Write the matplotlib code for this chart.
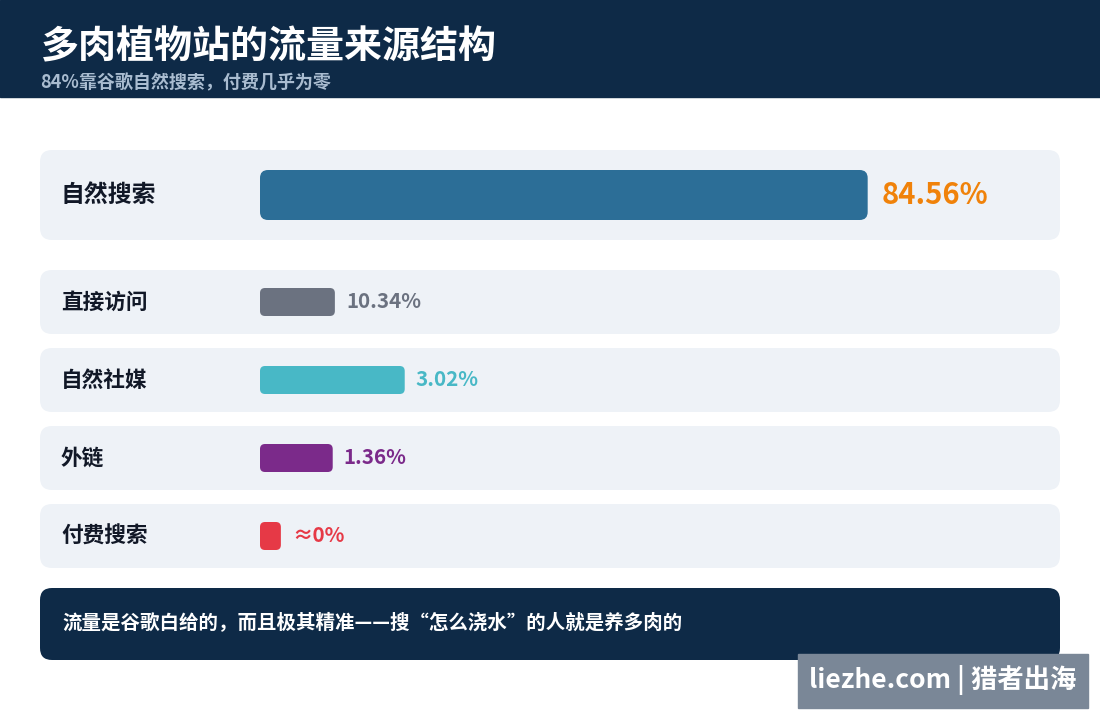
import matplotlib
matplotlib.use("Agg")
import matplotlib.pyplot as plt
from matplotlib.patches import FancyBboxPatch, Rectangle

plt.rcParams['font.family'] = ['Noto Sans CJK SC', 'DejaVu Sans']

# data
title = "多肉植物站的流量来源结构"
subtitle = "84%靠谷歌自然搜索，付费几乎为零"
sources = ["自然搜索", "直接访问", "自然社媒", "外链", "付费搜索"]
value_labels = ["84.56%", "10.34%", "3.02%", "1.36%", "≈0%"]
# bar lengths as drawn in the picture (percent of the track)
bar_len = [84.4, 10.4, 20.1, 10.1, 2.9]
bar_colors = ["#2C6E97", "#6B7280", "#48B8C6", "#7B2A8A", "#E63946"]
label_colors = ["#F0820A", "#6B7280", "#48B8C6", "#7B2A8A", "#E63946"]
footer = "流量是谷歌白给的，而且极其精准——搜“怎么浇水”的人就是养多肉的"
watermark = "liezhe.com | 猎者出海"

navy = "#0E2A47"
row_bg = "#EEF2F7"

fig = plt.figure(figsize=(11, 7.2), dpi=100)
ax = fig.add_axes([0, 0, 1, 1])
ax.set_xlim(0, 1100)
ax.set_ylim(720, 0)
ax.axis("off")

# header band
ax.add_patch(Rectangle((0, 0), 1100, 97, color=navy, zorder=1))
ax.text(41, 47, title, color="white", fontsize=27.4, fontweight="heavy", va="center", ha="left")
ax.text(40, 83, subtitle, color="#A9BCD0", fontsize=13, fontweight="bold", va="center", ha="left")

# rows
track_x = 260
px_per_unit = 7.2
row_tops = [150, 270, 348, 426, 504]
row_h = [90, 64, 64, 64, 64]
bar_h = [50, 28, 28, 28, 28]

for i, src in enumerate(sources):
    top = row_tops[i]
    h = row_h[i]
    cy = top + h / 2
    ax.add_patch(FancyBboxPatch((40, top), 1020, h,
                                boxstyle="round,pad=0,rounding_size=12",
                                fc=row_bg, ec="none", zorder=2))
    big = i == 0
    ax.text(61, cy, src, color="#111827", fontsize=17.2 if big else 15.6,
            fontweight="bold", va="center", ha="left", zorder=4)
    w = bar_len[i] * px_per_unit
    bh = bar_h[i]
    ax.add_patch(FancyBboxPatch((track_x, cy - bh / 2), w, bh,
                                boxstyle="round,pad=0,rounding_size=%d" % (8 if big else 5),
                                fc=bar_colors[i], ec="none", zorder=3))
    ax.text(track_x + w + (14 if big else 11), cy, value_labels[i], color=label_colors[i],
            fontsize=21 if big else 14.8, fontweight="bold", va="center", ha="left", zorder=4)

# footer note
ax.add_patch(FancyBboxPatch((40, 588), 1020, 72,
                            boxstyle="round,pad=0,rounding_size=12",
                            fc=navy, ec="none", zorder=2))
ax.text(62, 622, footer, color="white", fontsize=14, fontweight="bold",
        va="center", ha="left", zorder=4)

# watermark
ax.add_patch(Rectangle((798, 654), 290, 54, color="#7A8797", zorder=5))
ax.text(943, 680, watermark, color="white", fontsize=19, fontweight="bold",
        va="center", ha="center", zorder=6)

fig.savefig("out.png", dpi=100)
